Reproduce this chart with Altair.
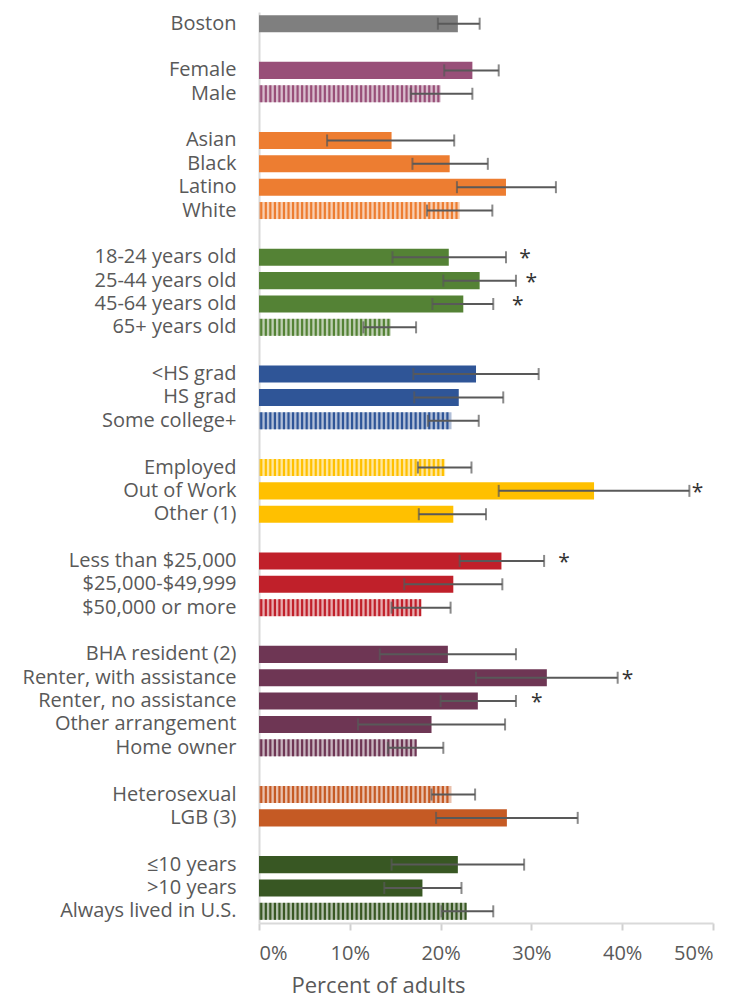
import altair as alt
import pandas as pd

# Prevalence (%) with 95% confidence limits, by demographic group
groups = [
    "Boston",
    "Sex", "Sex",
    "Race", "Race", "Race", "Race",
    "Age", "Age", "Age", "Age",
    "Education", "Education", "Education",
    "Employment", "Employment", "Employment",
    "Income", "Income", "Income",
    "Housing", "Housing", "Housing", "Housing", "Housing",
    "Orientation", "Orientation",
    "Nativity", "Nativity", "Nativity",
]
labels = [
    "Boston",
    "Female", "Male",
    "Asian", "Black", "Latino", "White",
    "18-24 years old", "25-44 years old", "45-64 years old", "65+ years old",
    "<HS grad", "HS grad", "Some college+",
    "Employed", "Out of Work", "Other (1)",
    "Less than $25,000", "$25,000-$49,999", "$50,000 or more",
    "BHA resident (2)", "Renter, with assistance ", "Renter, no assistance",
    "Other arrangement", "Home owner",
    "Heterosexual", "LGB (3)",
    "\u226410 years", ">10 years", "Always lived in U.S.",
]
values = [
    21.9,
    23.5, 20.0,
    14.6, 21.0, 27.2, 22.1,
    20.9, 24.3, 22.5, 14.5,
    23.9, 22.0, 21.2,
    20.5, 36.9, 21.4,
    26.7, 21.4, 17.8,
    20.8, 31.7, 24.1, 19.0, 17.3,
    21.2, 27.3,
    21.9, 18.0, 22.8,
]
lower = [
    19.7,
    20.4, 16.7,
    7.5, 16.9, 21.8, 18.5,
    14.7, 20.3, 19.1, 11.5,
    17.0, 17.1, 18.6,
    17.5, 26.4, 17.6,
    22.1, 16.0, 14.6,
    13.3, 23.9, 20.0, 10.9, 14.2,
    19.0, 19.5,
    14.6, 13.8, 20.1,
]
upper = [
    24.3,
    26.4, 23.5,
    21.5, 25.2, 32.7, 25.7,
    27.2, 28.3, 25.8, 17.3,
    30.8, 26.9, 24.2,
    23.4, 47.4, 25.0,
    31.4, 26.8, 21.1,
    28.3, 39.5, 28.3, 27.1, 20.3,
    23.8, 35.1,
    29.2, 22.3, 25.8,
]
# reference category within each group (drawn hatched)
reference = [
    False,
    False, True,
    False, False, False, True,
    False, False, False, True,
    False, False, True,
    True, False, False,
    False, False, True,
    False, False, False, False, True,
    True, False,
    False, False, True,
]
# significance markers: centre of the asterisk (percent)
star_x = [
    None,
    None, None,
    None, None, None, None,
    29.3, 30.0, 28.5, None,
    None, None, None,
    None, 48.3, None,
    33.6, None, None,
    None, 40.6, 30.6, None, None,
    None, None,
    None, None, None,
]

group_names = ["Boston", "Sex", "Race", "Age", "Education", "Employment",
               "Income", "Housing", "Orientation", "Nativity"]
group_colors = ["#7f7f7f", "#984f78", "#ed7d31", "#548235", "#2f5597",
                "#ffc000", "#c0202a", "#6e3654", "#c55a24", "#385723"]

# category slots, with an empty slot between groups
slots = []
prev = None
gap = 0
for g, lab in zip(groups, labels):
    if prev is not None and g != prev:
        gap += 1
        slots.append(f"gap{gap}")
    slots.append(lab)
    prev = g

df = pd.DataFrame({
    "group": groups, "label": labels, "value": values,
    "lo": lower, "hi": upper, "ref": reference, "star": star_x,
})

FONT = "Open Sans"
TEXT = "#595959"

color = alt.Color("group:N", scale=alt.Scale(domain=group_names, range=group_colors), legend=None)
y_enc = alt.Y(
    "label:N",
    sort=slots,
    scale=alt.Scale(domain=slots, paddingInner=0.27, paddingOuter=0.135),
    axis=alt.Axis(
        title=None, ticks=False, domain=True, domainColor="#d9d9d9", domainWidth=2,
        labelExpr="indexof(datum.value, 'gap') == 0 ? '' : datum.value",
        labelFont=FONT, labelFontSize=20, labelColor=TEXT, labelPadding=23,
        labelLimit=300,
    ),
)
x_scale = alt.Scale(domain=[0, 50], nice=False)
x_enc = alt.X(
    "value:Q",
    scale=x_scale,
    axis=alt.Axis(
        values=[0, 10, 20, 30, 40, 50], labelExpr="datum.value + '%'",
        grid=False, domainColor="#d9d9d9", domainWidth=2, tickColor="#d0d0d0",
        tickWidth=2, tickSize=7, labelFont=FONT, labelFontSize=20,
        labelColor=TEXT, labelPadding=13, title="Percent of adults",
        titleFont=FONT, titleFontSize=22, titleFontWeight="normal",
        titleColor=TEXT, titlePadding=12, titleX=119, titleAlign="center",
    ),
)

base = alt.Chart(df)

solid = base.transform_filter("!datum.ref").mark_bar().encode(x=x_enc, y=y_enc, color=color)

tint = base.transform_filter("datum.ref").mark_bar(opacity=0.38).encode(
    x=alt.X("value:Q", scale=x_scale), y=alt.Y("label:N", sort=slots), color=color
)

stripes = (
    base.transform_filter("datum.ref")
    .transform_calculate(pos="sequence(0.25, datum.value, 0.5)")
    .transform_flatten(["pos"])
    .mark_tick(size=17, thickness=2.2, opacity=1)
    .encode(x=alt.X("pos:Q", scale=x_scale), y=alt.Y("label:N", sort=slots), color=color)
)

err = base.mark_rule(color="#595959", strokeWidth=2).encode(
    x=alt.X("lo:Q", scale=x_scale), x2="hi:Q", y=alt.Y("label:N", sort=slots)
)

caps = (
    base.transform_fold(["lo", "hi"], as_=["end", "pos"])
    .mark_tick(color="#595959", size=12, thickness=2)
    .encode(x=alt.X("pos:Q", scale=x_scale), y=alt.Y("label:N", sort=slots))
)

stars = (
    base.transform_filter("datum.star != null")
    .mark_text(text="*", align="center", baseline="middle", font=FONT, fontSize=21,
               color="#333333", dy=2)
    .encode(x=alt.X("star:Q", scale=x_scale), y=alt.Y("label:N", sort=slots))
)

chart = (
    alt.layer(solid, tint, stripes, err, caps, stars)
    .properties(
        width=454, height=911,
        padding={"left": 259, "top": 12, "right": 22, "bottom": 77},
        autosize=alt.AutoSizeParams(type="none"),
    )
    .configure_view(stroke=None)
)

chart.save("out.html", embed_options={"renderer": "svg", "actions": False})
